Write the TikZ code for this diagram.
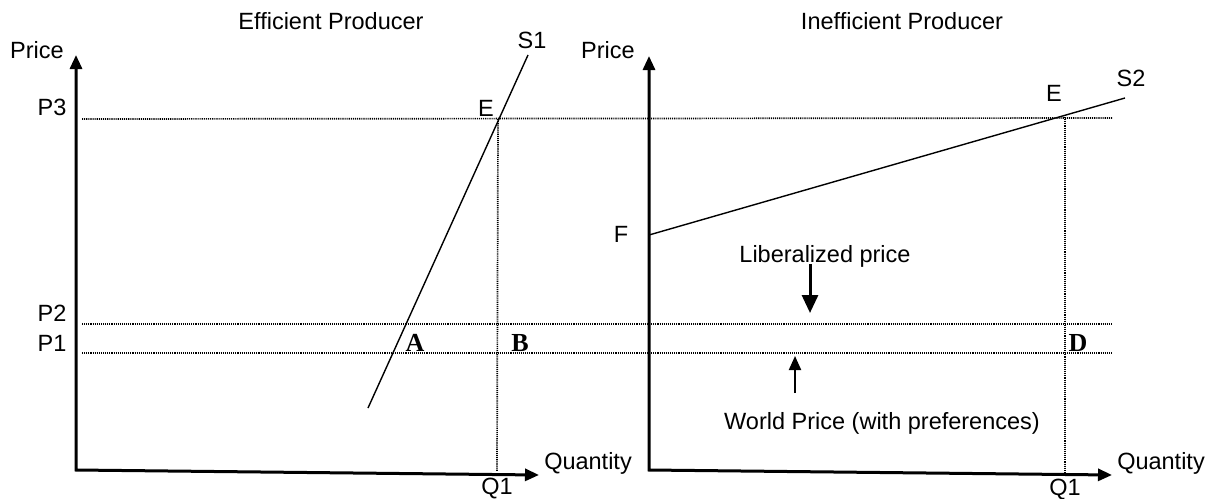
\documentclass[tikz,border=0pt]{standalone}
\usepackage{fontspec}
\setmainfont{Liberation Sans}
\newfontfamily\timesfont{Liberation Serif}
\usetikzlibrary{arrows.meta}

\begin{document}
\begin{tikzpicture}[
x=0.5pt, y=-0.5pt,
every node/.style={font=\fontsize{11.75}{14}\selectfont, inner sep=0pt},
pointlbl/.style={font=\fontsize{13}{15}\selectfont\timesfont\bfseries},
axis/.style={line width=1.5pt, {Triangle[length=7pt,width=6pt]}-{Triangle[length=7pt,width=6pt]}},
guide/.style={line width=0.85pt, dash pattern=on 0.55pt off 0.5pt},
supply/.style={line width=0.7pt},
pointer/.style={line width=1.5pt, -{Triangle[length=9pt,width=8pt]}}
]
\useasboundingbox (0,0) rectangle (1209,498);

% efficient producer
\coordinate (ytopA) at (76,55);
\coordinate (originA) at (76,470);
\coordinate (xendA) at (539,475);
\coordinate (eqA) at (498,119);
\coordinate (qA) at (497,471);
\coordinate (s1low) at (368,408);
\coordinate (s1high) at (528,55);

% inefficient producer
\coordinate (ytopB) at (649,56);
\coordinate (originB) at (649,470);
\coordinate (xendB) at (1112,475);
\coordinate (eqB) at (1065,117);
\coordinate (qB) at (1065,475);
\coordinate (fpt) at (649,235);
\coordinate (s2high) at (1125,98);

% price levels
\coordinate (p3start) at (82,119);
\coordinate (p3end) at (1112,118);
\coordinate (p2start) at (82,324);
\coordinate (p2end) at (1112,324);
\coordinate (p1start) at (82,353);
\coordinate (p1end) at (1112,353);

\draw[guide] (p3start) -- (p3end);
\draw[guide] (p2start) -- (p2end);
\draw[guide] (p1start) -- (p1end);
\draw[guide] (eqA) -- (qA);
\draw[guide] (eqB) -- (qB);

\draw[axis] (ytopA) -- (originA) -- (xendA);
\draw[axis] (ytopB) -- (originB) -- (xendB);

\draw[supply] (s1low) -- (s1high);
\draw[supply] (fpt) -- (s2high);

% labels
\node (titleA) at (331,21) {Efficient Producer};
\node (titleB) at (902,21) {Inefficient Producer};
\node (priceA) at (37,50) {Price};
\node (priceB) at (608,50) {Price};
\node (p3) at (52,107) {P3};
\node (p2) at (52,313) {P2};
\node (p1) at (52,343) {P1};
\node (eA) at (486,108) {E};
\node (s1) at (532,40) {S1};
\node[pointlbl] (ptA) at (415,343) {A};
\node[pointlbl] (ptB) at (520,343) {B};
\node (quantA) at (588,463) {Quantity};
\node (q1A) at (497,489) {Q1};
\node (f) at (621,234) {F};
\node (eB) at (1054,93) {E};
\node (s2) at (1131,78) {S2};
\node[pointlbl] (ptD) at (1078,343) {D};
\node (quantB) at (1161,463) {Quantity};
\node (q1B) at (1065,490) {Q1};

\node (lib) at (825,256) {Liberalized price};
\node (world) at (882,423) {World Price (with preferences)};
\coordinate (libtip) at (810,313);
\coordinate (worldtip) at (795,356);

\draw[pointer] (lib.south -| libtip) ++(0,-3) -- (libtip);
\draw[pointer, line width=1pt, -{Triangle[length=7pt,width=6pt]}] (795,393) -- (worldtip);

\end{tikzpicture}
\end{document}
